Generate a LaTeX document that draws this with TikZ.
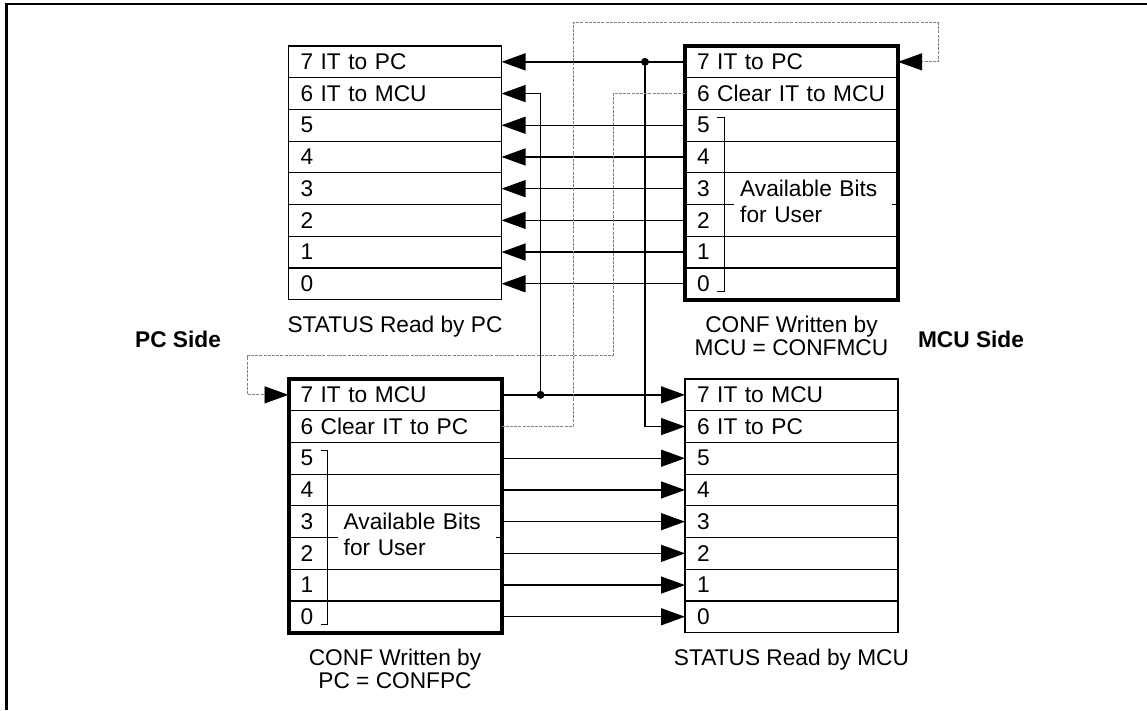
\documentclass[tikz,border=0pt]{standalone}
\usepackage{fontspec}
\setmainfont{Liberation Sans}
\usepackage{tikz}
\usetikzlibrary{arrows.meta,calc,positioning}

\begin{document}
\begin{tikzpicture}[x=1pt,y=-1pt,
    font=\fontsize{22.7pt}{23.4pt}\selectfont,
    reg/.style={draw,line width=1.2pt,minimum width=213pt,minimum height=31.7pt,
      inner xsep=12pt,inner ysep=0pt,text width=189pt,align=left,outer sep=0pt},
    thickbox/.style={line width=4pt},
    sig/.style={line width=1.3pt,-{Triangle[length=24pt,width=17pt]}},
    clr/.style={draw=gray,line width=0.9pt,dash pattern=on 3pt off 1.2pt,
      -{Triangle[length=24pt,width=17pt,color=black]}},
    regcap/.style={inner sep=0pt,align=center},
    side/.style={font=\fontsize{22.7pt}{23.4pt}\selectfont\bfseries},
    avail/.style={fill=white,inner xsep=6pt,inner ysep=1pt,text width=146pt,
      align=left,anchor=base west,font=\fontsize{22.7pt}{26.4pt}\selectfont}]

    \useasboundingbox (0,0) rectangle (1147,710);
    \draw[line width=2.5pt] (1147,4) -- (6.5,4) -- (6.5,710);

    % the four registers
    \foreach \i/\t in {7/7 IT to PC,6/6 IT to MCU,5/5,4/4,3/3,2/2,1/1,0/0}
        \node[reg] (spc\i) at (395,{61.85+31.7*(7-\i)}) {\t};
    \foreach \i/\t in {7/7 IT to PC,6/6 Clear IT to MCU,5/5,4/4,3/3,2/2,1/1,0/0}
        \node[reg] (cmcu\i) at (791.5,{61.85+31.7*(7-\i)}) {\t};
    \foreach \i/\t in {7/7 IT to MCU,6/6 Clear IT to PC,5/5,4/4,3/3,2/2,1/1,0/0}
        \node[reg] (cpc\i) at (395,{394.85+31.7*(7-\i)}) {\t};
    \foreach \i/\t in {7/7 IT to MCU,6/6 IT to PC,5/5,4/4,3/3,2/2,1/1,0/0}
        \node[reg] (smcu\i) at (791.5,{394.85+31.7*(7-\i)}) {\t};

    \draw[thickbox] (cmcu7.north west) rectangle (cmcu0.south east);
    \draw[thickbox] (cpc7.north west) rectangle (cpc0.south east);

    \node[avail] (ubmcu) at ($(cmcu3.south west)+(49,-8.4)$) {Available Bits\\for User};
    \node[avail] (ubpc) at ($(cpc3.south west)+(49,-8.4)$) {Available Bits\\for User};
    \draw[line width=1pt] (cmcu5.north west) ++(32,8) -- ++(7,0) -- ++(0,174) -- ++(-7,0);
    \draw[line width=1pt] (cpc5.north west) ++(32,8) -- ++(7,0) -- ++(0,174) -- ++(-7,0);

    \node[regcap,below=16pt of spc0] (capspc) {STATUS Read by PC};
    \node[regcap,below=16pt of cmcu0] (capcmcu) {CONF Written by\\MCU = CONFMCU};
    \node[regcap,below=16pt of cpc0] (capcpc) {CONF Written by\\PC = CONFPC};
    \node[regcap,below=16pt of smcu0] (capsmcu) {STATUS Read by MCU};
    \node[side] (pcside) at (178,339) {PC Side};
    \node[side] (mcuside) at (971,339) {MCU Side};

    % signals
    \foreach \i in {0,...,5} {
        \draw[sig] (cmcu\i.west) -- (spc\i.east);
        \draw[sig] (cpc\i.east) -- (smcu\i.west);
    }
    \coordinate (jmcu) at ([xshift=-40pt]cmcu7.west);
    \coordinate (jpc) at ([xshift=39pt]cpc7.east);
    \draw[sig] (cmcu7.west) -- (spc7.east);
    \draw[sig] (cpc7.east) -- (smcu7.west);
    \draw[sig] (jmcu) |- (smcu6.west);
    \draw[sig] (jpc) |- (spc6.east);
    \fill (jmcu) circle (4);
    \fill (jpc) circle (4);

    % clear lines
    \coordinate (clrA) at (613,355.5);
    \coordinate (clrB) at (247.5,355.5);
    \coordinate (clrC) at (573,22.5);
    \coordinate (clrD) at (938,22.5);
    \draw[clr] (cmcu6.west) -| (clrA) -- (clrB) |- (cpc7.west);
    \draw[clr] (cpc6.east) -| (clrC) -- (clrD) |- (cmcu7.east);
\end{tikzpicture}
\end{document}
